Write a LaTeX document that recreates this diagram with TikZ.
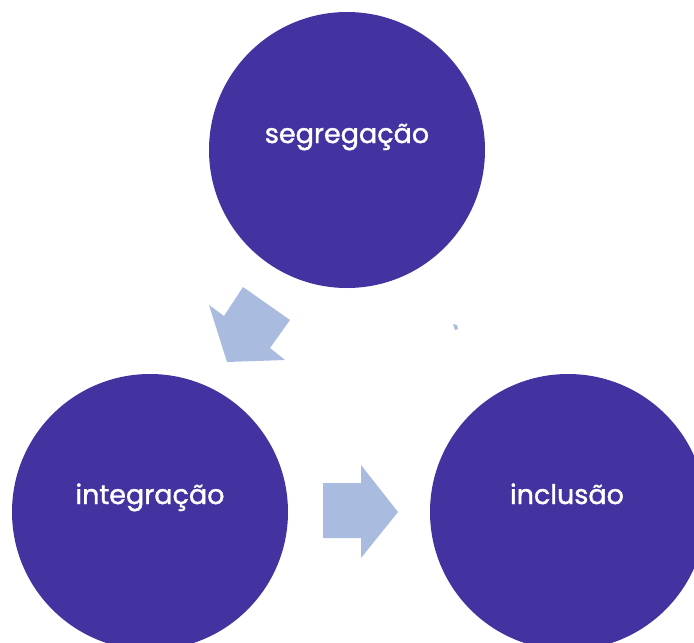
\documentclass[tikz,border=0pt]{standalone}
\usepackage{fontspec}
\setmainfont{Poppins}
\newfontfamily\stagefont{Poppins}[FakeBold=1.4]
\usetikzlibrary{positioning}
\definecolor{stagefill}{RGB}{66,51,160}
\definecolor{arrowfill}{RGB}{170,187,224}

\begin{document}
\begin{tikzpicture}[x=1pt,y=-1pt]
            \tikzset{stage/.style = {shape=circle, fill=stagefill, minimum size=276pt, inner sep=0pt}}
            \tikzset{stagetext/.style = {text=white, inner sep=0pt, anchor=base, font=\stagefont\fontsize{27}{32}\selectfont}}
            \tikzset{blockarrow/.style = {fill=arrowfill, draw=none}}
            \useasboundingbox (0,0) rectangle (694,643);
            % stages
            \node[stage] (seg) at (347,150) {};
            \node[stage] (int) at (150,512) {};
            \node[stage] (inc) at (568,512) {};
            % labels
            \node[stagetext] (segtext) at ([yshift=7pt]seg.center) {segregação};
            \node[stagetext] (inttext) at ([yshift=8pt]int.center) {integração};
            \node[stagetext] (inctext) at ([yshift=8pt,xshift=-1pt]inc.center) {inclusão};
            % arrows
            \fill[blockarrow] (243,287) -- (290,320) -- (270,348) -- (285,360)
                -- (227,362) -- (209,305) -- (224,316) -- cycle;
            \fill[blockarrow] (323,483) -- (361,483) -- (361,465) -- (398,512)
                -- (361,558) -- (361,538) -- (323,538) -- cycle;
            \fill[blockarrow] (453,324) -- (457,325) -- (458,329) -- (455,330) -- cycle;
\end{tikzpicture}
\end{document}
